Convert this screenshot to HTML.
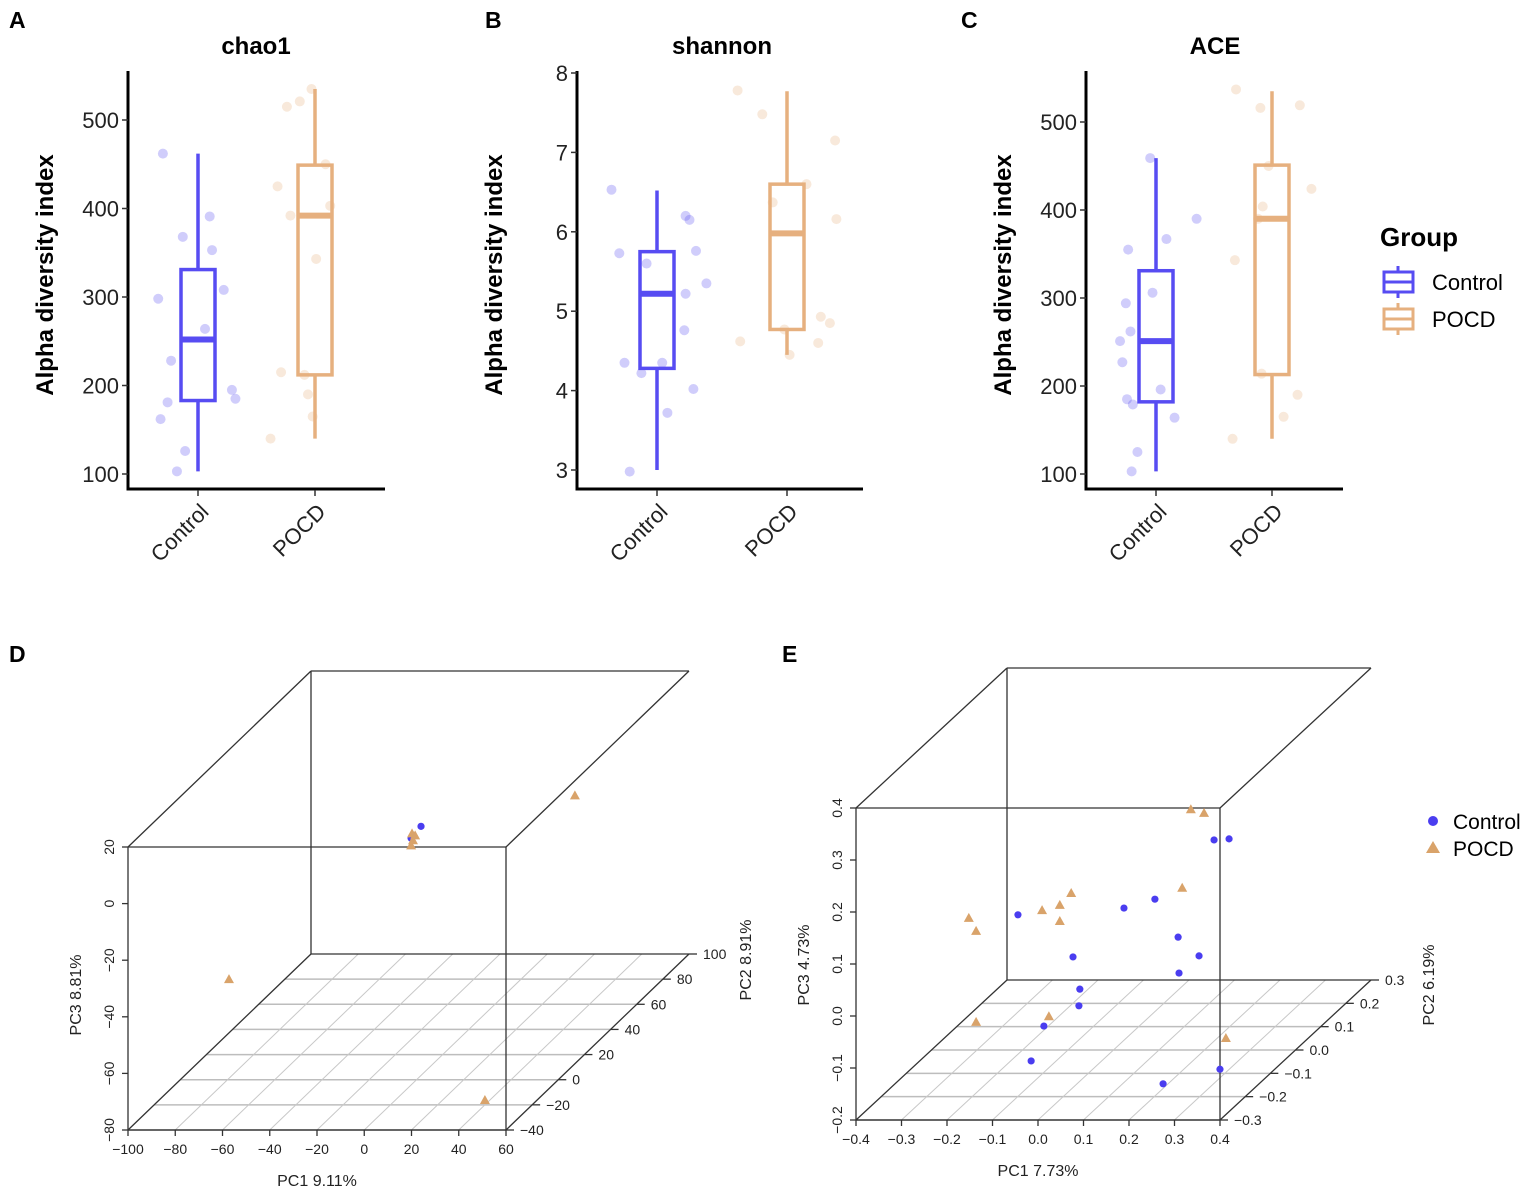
<!DOCTYPE html>
<html><head><meta charset="utf-8">
<style>
html,body{margin:0;padding:0;background:#fff;}
svg{display:block;font-family:"Liberation Sans",sans-serif;}
.n{font-family:"Liberation Sans Narrow","Liberation Sans",sans-serif;}
</style></head>
<body>
<svg id="fig" width="1535" height="1192" viewBox="0 0 1535 1192" xmlns="http://www.w3.org/2000/svg">
  <text x="9" y="28" font-size="23" font-weight="bold">A</text>
  <text x="485" y="28" font-size="23" font-weight="bold">B</text>
  <text x="961" y="28" font-size="23" font-weight="bold">C</text>
  <text x="9" y="662" font-size="23" font-weight="bold">D</text>
  <text x="782" y="662" font-size="23" font-weight="bold">E</text>

  <g>
    <text x="1380" y="246" font-size="26" font-weight="bold">Group</text>
    <g>
      <line x1="1398" y1="266" x2="1398" y2="298" stroke="#574cf2" stroke-width="3"/>
      <rect x="1384" y="272" width="29" height="20" fill="#fff" stroke="#574cf2" stroke-width="3"/>
      <line x1="1384" y1="282" x2="1413" y2="282" stroke="#574cf2" stroke-width="3"/>
      <text x="1432" y="290" font-size="22">Control</text>
    </g>
    <g>
      <line x1="1398" y1="303" x2="1398" y2="335" stroke="#e6b07f" stroke-width="3"/>
      <rect x="1384" y="309" width="29" height="20" fill="#fff" stroke="#e6b07f" stroke-width="3"/>
      <line x1="1384" y1="319" x2="1413" y2="319" stroke="#e6b07f" stroke-width="3"/>
      <text x="1432" y="327" font-size="22">POCD</text>
    </g>
  </g>

  <g class="n">
    <circle cx="1433" cy="821" r="5" fill="#4a3df0"/>
    <text x="1453" y="829" font-size="21">Control</text>
    <polygon points="1433,841 1440,853 1426,853" fill="#d9a36a"/>
    <text x="1453" y="856" font-size="21">POCD</text>
  </g>
</svg>
<script>
// ---------- Box plot data ----------
const groupNames = ['Control','POCD'];
const chaoTicks = [100,200,300,400,500];
const shannonTicks = [3,4,5,6,7,8];
const aceTicks = [100,200,300,400,500];
// [min, q1, median, q3, max]
const chaoControlStats = [103,183,252,331,462];
const chaoPocdStats = [140,212,392,449,535];
const shannonControlStats = [3.0,4.28,5.22,5.75,6.52];
const shannonPocdStats = [4.45,4.77,5.98,6.6,7.77];
const aceControlStats = [103,182,251,331,459];
const acePocdStats = [140,213,390,451,535];
// sample values + jitter (category units)
const chaoControlVals = [462,298,368,391,353,264,308,228,162,181,195,185,126,103];
const chaoControlJit = [-0.30,-0.34,-0.13,0.10,0.12,0.06,0.22,-0.23,-0.32,-0.26,0.29,0.32,-0.11,-0.18];
const chaoPocdVals = [515,521,535,425,392,343,450,403,215,190,165,140,212];
const chaoPocdJit = [-0.24,-0.13,-0.03,-0.32,-0.21,0.01,0.09,0.13,-0.29,-0.06,-0.02,-0.38,-0.09];
const shannonControlVals = [6.53,5.73,5.6,6.2,6.15,5.76,5.35,5.22,4.76,4.35,4.22,4.35,4.02,3.72,2.98];
const shannonControlJit = [-0.35,-0.29,-0.08,0.22,0.25,0.30,0.38,0.22,0.21,-0.25,-0.12,0.04,0.28,0.08,-0.21];
const shannonPocdVals = [7.78,7.48,7.15,6.37,6.16,6.6,4.93,4.85,4.62,4.6,4.45,4.77];
const shannonPocdJit = [-0.38,-0.19,0.37,-0.11,0.38,0.15,0.26,0.33,-0.36,0.24,0.02,-0.02];
const aceControlVals = [459,390,367,355,294,262,251,227,185,179,306,196,164,125,103];
const aceControlJit = [-0.05,0.35,0.09,-0.24,-0.26,-0.22,-0.31,-0.29,-0.25,-0.20,-0.03,0.04,0.16,-0.16,-0.21];
const acePocdVals = [537,516,519,424,404,343,450,214,190,165,140,390];
const acePocdJit = [-0.31,-0.10,0.24,0.34,-0.08,-0.32,-0.03,-0.09,0.22,0.10,-0.34,-0.12];

// ---------- PCoA data ----------
const dPc1Ticks = [-100,-80,-60,-40,-20,0,20,40,60];
const dPc2Ticks = [-40,-20,0,20,40,60,80,100];
const dPc3Ticks = [-80,-60,-40,-20,0,20];
const dControlPc1 = [-14.7,-18.9];
const dControlPc2 = [30,30];
const dControlPc3 = [-3.8,-8.0];
const dPocdPc1 = [27.2,-65,47.2,-18.5,-18.1,-18.9,-17.2];
const dPocdPc2 = [72,-26,-33,30,30,30,30];
const dPocdPc3 = [-11.5,-32.9,-72.5,-6.3,-8.7,-10.5,-7.0];

const ePc1Ticks = [-0.4,-0.3,-0.2,-0.1,0.0,0.1,0.2,0.3,0.4];
const ePc2Ticks = [-0.3,-0.2,-0.1,0.0,0.1,0.2,0.3];
const ePc3Ticks = [-0.2,-0.1,0.0,0.1,0.2,0.3,0.4];
const eControlPc1 = [-0.21,-0.089,-0.074,-0.076,-0.153,-0.181,0.023,0.091,0.142,0.188,0.144,0.221,0.254,0.234,0.109];
const eControlPc2 = [0,0,0,0,0,0,0,0,0,0,0,0,0,0,0];
const eControlPc3 = [0.06,-0.021,-0.083,-0.115,-0.154,-0.221,0.073,0.090,0.017,-0.019,-0.052,0.204,0.206,-0.237,-0.265];
const ePocdPc1 = [-0.318,-0.302,-0.157,-0.118,-0.093,-0.118,0.170,0.199,0.151,-0.142,-0.302,0.247];
const ePocdPc2 = [0,0,0,0,0,0,0,0,0,0,0,0];
const ePocdPc3 = [0.054,0.029,0.069,0.079,0.102,0.048,0.263,0.256,0.112,-0.135,-0.146,-0.177];

const NS = 'http://www.w3.org/2000/svg';
const svg = document.getElementById('fig');
const BLUE = '#574cf2', ORANGE = '#e6b07f';
function add(parent, tag, attrs, text){
  const e = document.createElementNS(NS, tag);
  for (const k in attrs) e.setAttribute(k, attrs[k]);
  if (text != null) e.textContent = text;
  parent.appendChild(e);
  return e;
}

function boxPanel(cfg){
  const g = add(svg, 'g', {});
  
  
  const yS = v => cfg.y0 + (v - cfg.v0) * (cfg.y1 - cfg.y0) / (cfg.v1 - cfg.v0);
  const xS = (i, j) => cfg.c0 + (i + (j || 0)) * cfg.sp;
  const t = add(g, 'text', {x: cfg.titleX, y: 54, 'font-size': 24, 'font-weight': 'bold', 'text-anchor': 'middle'}, cfg.title);
  
  
  const yt = add(g, 'text', {x: 0, y: 0, 'font-size': 24, 'font-weight': 'bold', 'text-anchor': 'middle', transform: 'translate(' + (cfg.ax - 75) + ',275) rotate(-90)'}, 'Alpha diversity index');
  
  
  // points first
  [[cfg.cVals, cfg.cJit, BLUE, 0], [cfg.pVals, cfg.pJit, ORANGE, 1]].forEach(([vals, jit, col, gi]) => {
    vals.forEach((v, k) => {
      const c = add(g, 'circle', {cx: xS(gi, jit[k]), cy: yS(v), r: 5, fill: col, 'fill-opacity': 0.28});
      
      
    });
  });
  [[cfg.cStats, BLUE, 0], [cfg.pStats, ORANGE, 1]].forEach(([s, col, gi]) => {
    const x = xS(gi), hw = 17;
    const w1 = add(g, 'line', {x1: x, x2: x, y1: yS(s[0]), y2: yS(s[1]), stroke: col, 'stroke-width': 3.5});
    
    
    const w2 = add(g, 'line', {x1: x, x2: x, y1: yS(s[3]), y2: yS(s[4]), stroke: col, 'stroke-width': 3.5});
    
    
    const r = add(g, 'rect', {x: x - hw, y: yS(s[3]), width: 2 * hw, height: yS(s[1]) - yS(s[3]), fill: 'none', stroke: col, 'stroke-width': 3.5});
    
    
    const m = add(g, 'line', {x1: x - hw, x2: x + hw, y1: yS(s[2]), y2: yS(s[2]), stroke: col, 'stroke-width': 6});
    
    
  });
  const ya = add(g, 'line', {x1: cfg.ax, x2: cfg.ax, y1: 71, y2: 490, stroke: '#000', 'stroke-width': 3});
  
  
  const xa = add(g, 'line', {x1: cfg.ax - 1.5, x2: cfg.right, y1: 489, y2: 489, stroke: '#000', 'stroke-width': 3});
  
  
  cfg.ticks.forEach(v => {
    const tk = add(g, 'line', {x1: cfg.ax - 6, x2: cfg.ax, y1: yS(v), y2: yS(v), stroke: '#333', 'stroke-width': 1.5});
    
    
    const tl = add(g, 'text', {x: cfg.ax - 9, y: yS(v) + 8, 'font-size': 22, 'text-anchor': 'end', fill: '#222'}, String(v));
    
    
  });
  groupNames.forEach((nm, i) => {
    const x = xS(i);
    const tk = add(g, 'line', {x1: x, x2: x, y1: 490, y2: 496, stroke: '#333', 'stroke-width': 1.5});
    
    
    const tl = add(g, 'text', {x: 0, y: 0, 'font-size': 22, 'text-anchor': 'end', fill: '#222', transform: 'translate(' + (x + 12) + ',513) rotate(-45)'}, nm);
    
    
  });
}

boxPanel({name: 'chao1', title: 'chao1', titleX: 256, ax: 128, right: 385, v0: 100, y0: 474, v1: 500, y1: 120, c0: 198, sp: 117, ticks: chaoTicks,
  cStats: chaoControlStats, pStats: chaoPocdStats, cVals: chaoControlVals, cJit: chaoControlJit, pVals: chaoPocdVals, pJit: chaoPocdJit});
boxPanel({name: 'shannon', title: 'shannon', titleX: 722, ax: 577, right: 863, v0: 3, y0: 470, v1: 8, y1: 73, c0: 657, sp: 130, ticks: shannonTicks,
  cStats: shannonControlStats, pStats: shannonPocdStats, cVals: shannonControlVals, cJit: shannonControlJit, pVals: shannonPocdVals, pJit: shannonPocdJit});
boxPanel({name: 'ace', title: 'ACE', titleX: 1215, ax: 1086, right: 1343, v0: 100, y0: 474, v1: 500, y1: 122, c0: 1156, sp: 116, ticks: aceTicks,
  cStats: aceControlStats, pStats: acePocdStats, cVals: aceControlVals, cJit: aceControlJit, pVals: acePocdVals, pJit: acePocdJit});

function pcoaPanel(c){
  const g = add(svg, 'g', {class: 'n'});
  
  
  const fx = v => c.L + (v - c.p1[0]) / (c.p1[1] - c.p1[0]) * (c.R - c.L);
  const fy = v => c.B - (v - c.p3[0]) / (c.p3[1] - c.p3[0]) * (c.B - c.T);
  const ft = v => (v - c.p2[0]) / (c.p2[1] - c.p2[0]);
  const P = (a, b, d) => [fx(a) + c.dx * ft(b), fy(d) + c.dy * ft(b)];
  const line = (x1, y1, x2, y2, col, w, nm) => {
    const l = add(g, 'line', {x1, y1, x2, y2, stroke: col, 'stroke-width': w});
    
    
    return l;
  };
  // floor grid
  c.p2t.forEach(v => {
    if (v === c.p2[0] || v === c.p2[1]) return;
    const a = P(c.p1[0], v, c.p3[0]), b = P(c.p1[1], v, c.p3[0]);
    line(a[0], a[1], b[0], b[1], '#bdbdbd', 1.5, c.name + '-floor-grid-pc2');
  });
  c.p1t.forEach(v => {
    if (v === c.p1[0] || v === c.p1[1]) return;
    const a = P(v, c.p2[0], c.p3[0]), b = P(v, c.p2[1], c.p3[0]);
    line(a[0], a[1], b[0], b[1], '#c8c8c8', 1, c.name + '-floor-grid-pc1');
  });
  // box edges
  const E = '#333';
  line(c.L, c.T, c.R, c.T, E, 1.3, c.name + '-box-edge');
  line(c.L, c.B, c.R, c.B, E, 1.6, c.name + '-box-edge');
  line(c.L, c.T, c.L, c.B, E, 1.3, c.name + '-box-edge');
  line(c.R, c.T, c.R, c.B, E, 1.3, c.name + '-box-edge');
  line(c.L + c.dx, c.T + c.dy, c.R + c.dx, c.T + c.dy, E, 1.3, c.name + '-box-edge');
  line(c.L + c.dx, c.B + c.dy, c.R + c.dx, c.B + c.dy, E, 1.3, c.name + '-box-edge');
  line(c.L + c.dx, c.T + c.dy, c.L + c.dx, c.B + c.dy, E, 1.3, c.name + '-box-edge');
  line(c.L, c.T, c.L + c.dx, c.T + c.dy, E, 1.3, c.name + '-box-edge');
  line(c.R, c.T, c.R + c.dx, c.T + c.dy, E, 1.3, c.name + '-box-edge');
  line(c.L, c.B, c.L + c.dx, c.B + c.dy, E, 1.3, c.name + '-box-edge');
  line(c.R, c.B, c.R + c.dx, c.B + c.dy, E, 1.3, c.name + '-box-edge');
  // ticks
  c.p1t.forEach(v => {
    line(fx(v), c.B, fx(v), c.B + 6, E, 1.3, c.name + '-pc1-tick');
    const t = add(g, 'text', {x: fx(v), y: c.B + 24, 'font-size': 14, 'text-anchor': 'middle', fill: '#222'}, c.fmt(v));
    
    
  });
  c.p3t.forEach(v => {
    line(c.L - 6, fy(v), c.L, fy(v), E, 1.3, c.name + '-pc3-tick');
    const t = add(g, 'text', {x: 0, y: 0, 'font-size': 14, 'text-anchor': 'middle', fill: '#222', transform: 'translate(' + (c.L - 14) + ',' + fy(v) + ') rotate(-90)'}, c.fmt(v));
    
    
  });
  c.p2t.forEach(v => {
    const p = P(c.p1[1], v, c.p3[0]);
    line(p[0], p[1], p[0] + 8, p[1], E, 1.3, c.name + '-pc2-tick');
    const t = add(g, 'text', {x: p[0] + 14, y: p[1] + 5, 'font-size': 14, fill: '#222'}, c.fmt(v));
    
    
  });
  // axis titles
  const a1 = add(g, 'text', {x: (c.L + c.R) / 2, y: c.B + 56, 'font-size': 16, 'text-anchor': 'middle', fill: '#222'}, c.t1);
  
  
  const a3 = add(g, 'text', {x: 0, y: 0, 'font-size': 16, 'text-anchor': 'middle', fill: '#222', transform: 'translate(' + (c.L - 47) + ',' + c.t3y + ') rotate(-90)'}, c.t3);
  
  
  const a2 = add(g, 'text', {x: 0, y: 0, 'font-size': 16, 'text-anchor': 'middle', fill: '#222', transform: 'translate(' + c.t2x + ',' + c.t2y + ') rotate(-90)'}, c.t2);
  
  
  // points
  c.cp1.forEach((v, i) => {
    const p = P(v, c.cp2[i], c.cp3[i]);
    const d = add(g, 'circle', {cx: p[0], cy: p[1], r: 3.6, fill: '#4a3df0'});
    
    
  });
  c.pp1.forEach((v, i) => {
    const p = P(v, c.pp2[i], c.pp3[i]);
    const tr = add(g, 'polygon', {points: p[0] + ',' + (p[1] - 5) + ' ' + (p[0] + 5) + ',' + (p[1] + 4) + ' ' + (p[0] - 5) + ',' + (p[1] + 4), fill: '#d9a36a'});
    
    
  });
}

pcoaPanel({name: 'pcoa-d', L: 128, R: 506, T: 847, B: 1130, dx: 183, dy: -176, p1: [-100,60], p2: [-40,100], p3: [-80,20],
  p1t: dPc1Ticks, p2t: dPc2Ticks, p3t: dPc3Ticks, fmt: v => (v < 0 ? '\u2212' + (-v) : String(v)),
  t1: 'PC1 9.11%', t2: 'PC2 8.91%', t3: 'PC3 8.81%', t3y: 995, t2x: 751, t2y: 960,
  cp1: dControlPc1, cp2: dControlPc2, cp3: dControlPc3, pp1: dPocdPc1, pp2: dPocdPc2, pp3: dPocdPc3});
pcoaPanel({name: 'pcoa-e', L: 856, R: 1220, T: 808, B: 1120, dx: 151, dy: -140, p1: [-0.4,0.4], p2: [-0.3,0.3], p3: [-0.2,0.4],
  p1t: ePc1Ticks, p2t: ePc2Ticks, p3t: ePc3Ticks, fmt: v => (v < -1e-9 ? '\u2212' + (-v).toFixed(1) : Math.abs(v).toFixed(1)),
  t1: 'PC1 7.73%', t2: 'PC2 6.19%', t3: 'PC3 4.73%', t3y: 965, t2x: 1434, t2y: 985,
  cp1: eControlPc1, cp2: eControlPc2, cp3: eControlPc3, pp1: ePocdPc1, pp2: ePocdPc2, pp3: ePocdPc3});
</script>
</body></html>
